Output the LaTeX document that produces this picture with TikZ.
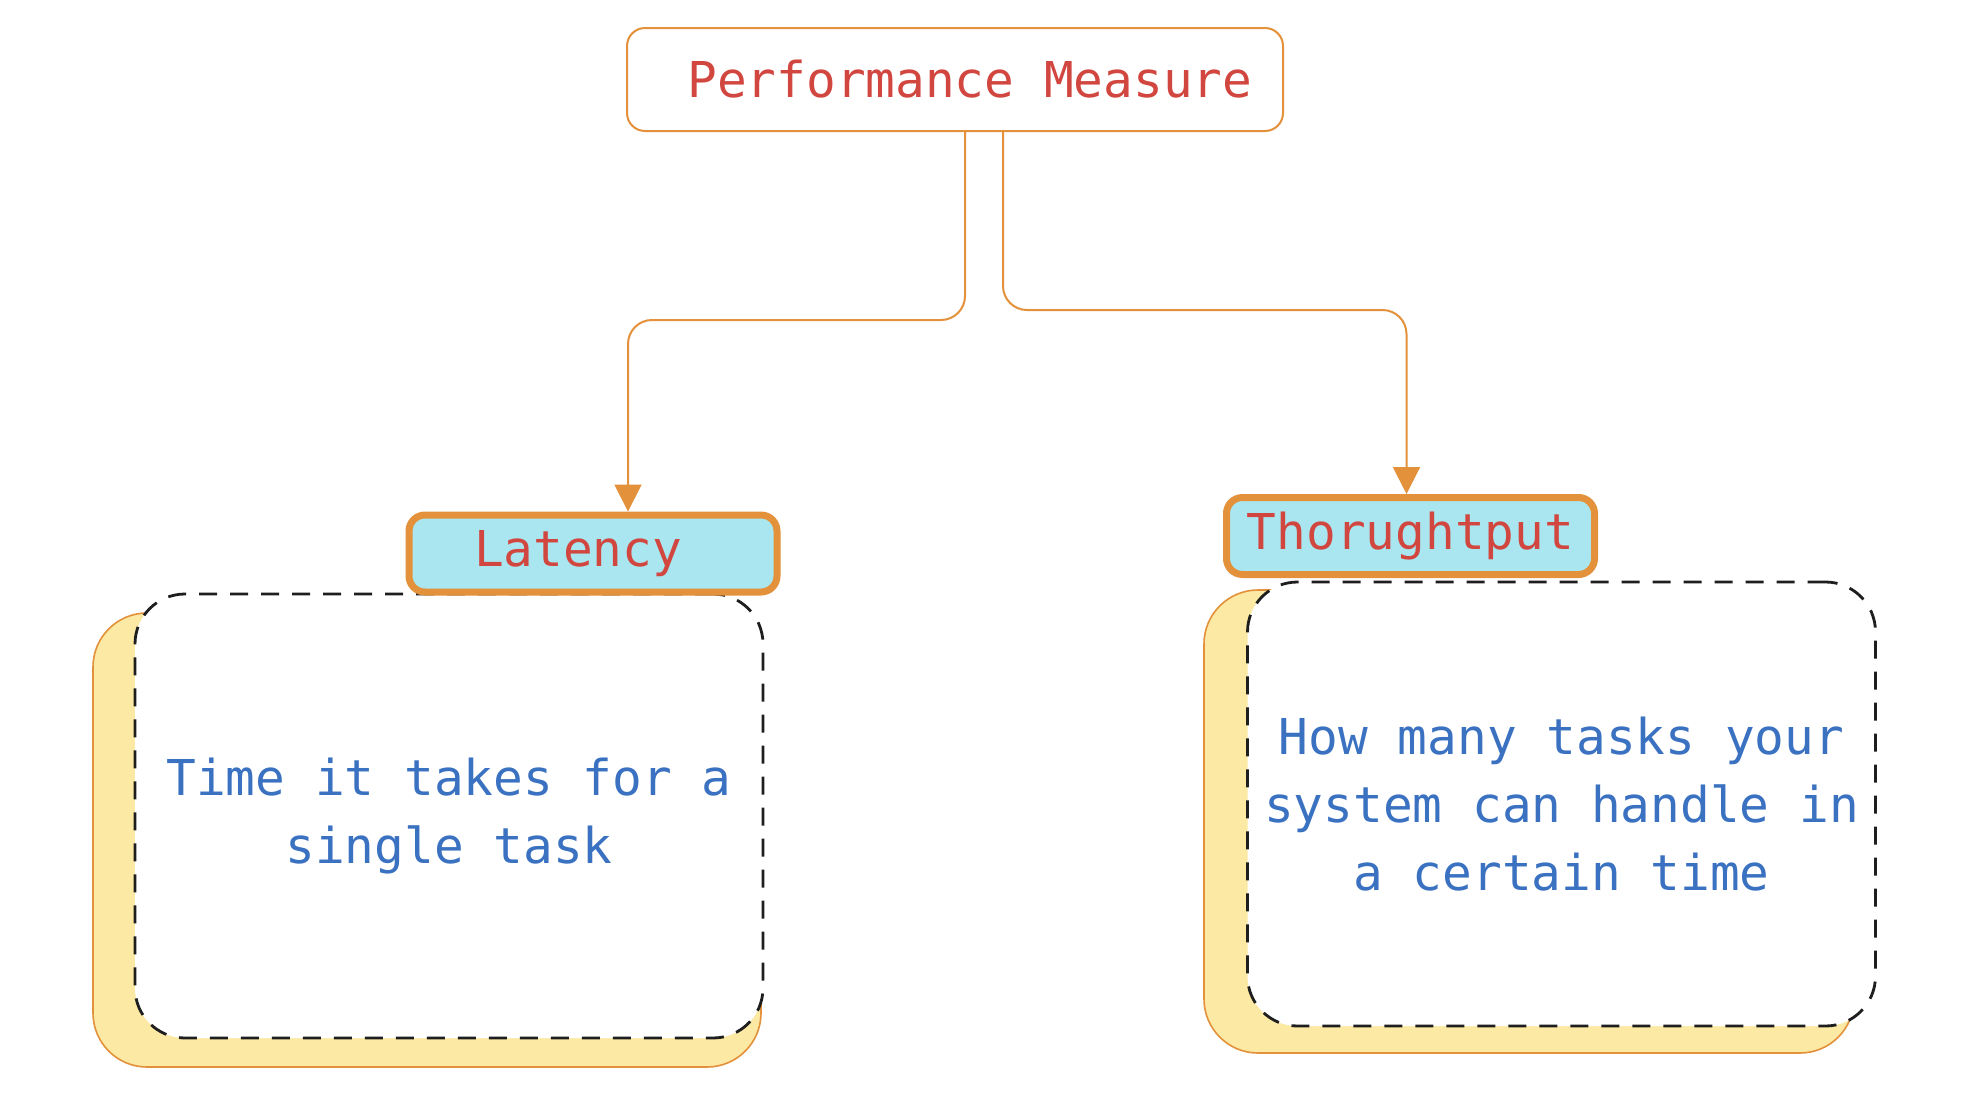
\documentclass[tikz,border=0pt]{standalone}
\usepackage{fontspec}
\setmainfont{DejaVu Sans Mono}
\usepackage{xcolor}
\usetikzlibrary{arrows.meta}

\definecolor{edgeorange}{HTML}{E3913A}
\definecolor{labelcyan}{HTML}{A9E6EF}
\definecolor{notecream}{HTML}{FBE9A4}
\definecolor{titlered}{HTML}{D24640}
\definecolor{bodyblue}{HTML}{3A71C1}
\definecolor{inkdash}{HTML}{1E1E1E}

\begin{document}
\begin{tikzpicture}[x=0.5pt,y=-0.5pt,
    every node/.style={font=\fontsize{24.7}{34}\selectfont},
    titlebox/.style={draw=edgeorange,line width=1pt,rounded corners=9pt,fill=white,
      text=titlered,minimum width=328pt,minimum height=51.5pt},
    tagbox/.style={draw=edgeorange,line width=3.5pt,rounded corners=8pt,fill=labelcyan,
      text=titlered,minimum width=184pt,minimum height=38.5pt,inner sep=0pt},
    notebox/.style={draw=inkdash,line width=1.4pt,dash pattern=on 9pt off 6.5pt,
      rounded corners=25pt,fill=white,text=bodyblue,align=center,
      minimum width=314pt,minimum height=222pt},
    notebacking/.style={draw=edgeorange,line width=0.8pt,fill=notecream,rounded corners=27pt},
    branch/.style={draw=edgeorange,line width=1pt,rounded corners=12pt,
      -{Triangle[length=13.5pt,width=13.5pt]}}]

    \path[use as bounding box,fill=white] (0,0) rectangle (1976,1098);

    % yellow sheets behind the notes
    \draw[notebacking] (93,613) rectangle (761,1067);
    \draw[notebacking] (1204,590) rectangle (1854,1053);

    \node[titlebox] (perf) at (955,79.5) {\hphantom{x}Performance Measure};

    \node[notebox] (latnote) at (449,816) {Time it takes for a\\single task};
    \node[notebox] (thrnote) at (1561.5,804) {How many tasks your\\system can handle in\\a certain time};

    \node[tagbox] (lat) at (593,553.5) {Latency\hphantom{x}};
    \node[tagbox] (thr) at (1410.5,536) {Thorughtput};

    \draw[branch] ([xshift=5pt]perf.south) -- ++(0,188) -| ([xshift=17.5pt]lat.north);
    \draw[branch] ([xshift=24pt]perf.south) -- ++(0,178) -| ([xshift=-2pt]thr.north);
\end{tikzpicture}
\end{document}
